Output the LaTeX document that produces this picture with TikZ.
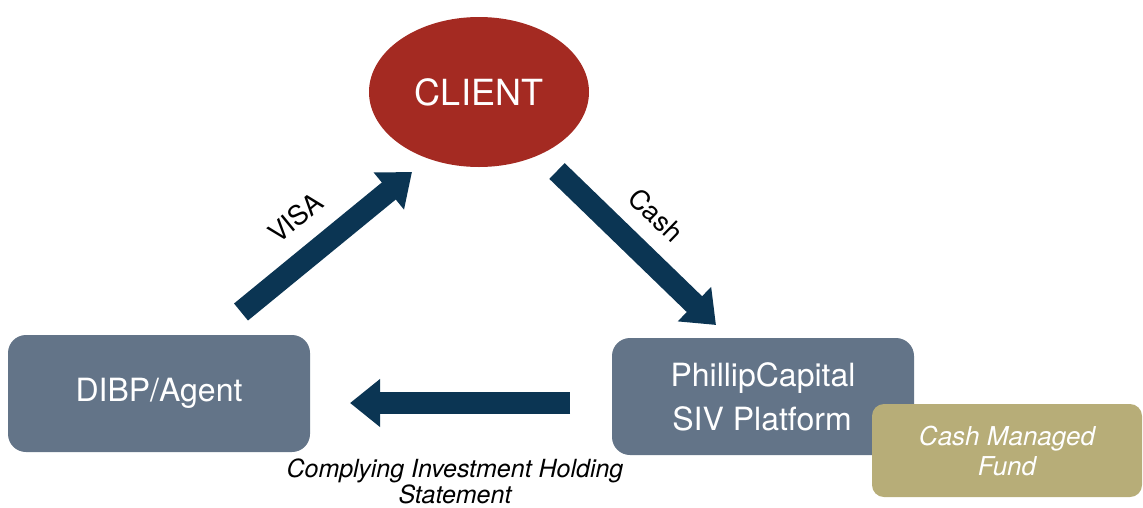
\documentclass[tikz,border=0pt]{standalone}
\usepackage{fontspec}
\setmainfont{TeX Gyre Heros}
\usetikzlibrary{arrows.meta,shapes.geometric}
\definecolor{clientred}{HTML}{A42A22}
\definecolor{boxgrey}{HTML}{637488}
\definecolor{fundkhaki}{HTML}{B7AD78}
\definecolor{flownavy}{HTML}{0B3553}

\begin{document}
\begin{tikzpicture}[x=1pt,y=-1pt,
    box/.style={fill=boxgrey,rounded corners=18pt,inner sep=0pt,text=white,align=center,
        minimum width=302pt,minimum height=117pt,font=\fontsize{32}{44}\selectfont},
    flow/.style={draw=flownavy,line width=22pt,-{Triangle[width=46pt,length=30pt]}},
    flowlabel/.style={font=\fontsize{27}{30}\selectfont,sloped,inner sep=0pt}]

    \useasboundingbox (0,0) rectangle (1143,507);

    \node[ellipse,fill=clientred,minimum width=220pt,minimum height=150pt,inner sep=0pt,
        text=white,font=\fontsize{36}{40}\selectfont] (client) at (479,92) {CLIENT};
    \node[box] (agent) at (159,393.5) {DIBP/Agent};
    \node[box] (siv) at (763,396.5) {PhillipCapital\\SIV Platform\hspace*{2pt}};
    \node[fill=fundkhaki,rounded corners=12pt,minimum width=270pt,minimum height=93pt,inner sep=0pt,
        text=white,align=center,font=\fontsize{26}{30}\selectfont\itshape] (fund) at (1007,450.5) {Cash Managed\\Fund};

    \coordinate (visatail) at (241,312);
    \coordinate (visahead) at (412,172);
    \coordinate (cashtail) at (557,171);
    \coordinate (cashhead) at (716,325);
    \coordinate (cistail) at (570,403);
    \coordinate (cishead) at (350,403);

    \draw[flow] (visatail) -- (visahead) node[flowlabel,pos=0.46,above=17pt] (visa) {VISA};
    \draw[flow] (cashtail) -- (cashhead) node[flowlabel,pos=0.46,above=16pt] (cash) {Cash};
    \draw[flow] (cistail) -- (cishead);

    \node[align=center,inner sep=0pt,font=\fontsize{25}{26}\selectfont\itshape] (cis) at (455,481)
        {Complying Investment Holding\\Statement};
\end{tikzpicture}
\end{document}
